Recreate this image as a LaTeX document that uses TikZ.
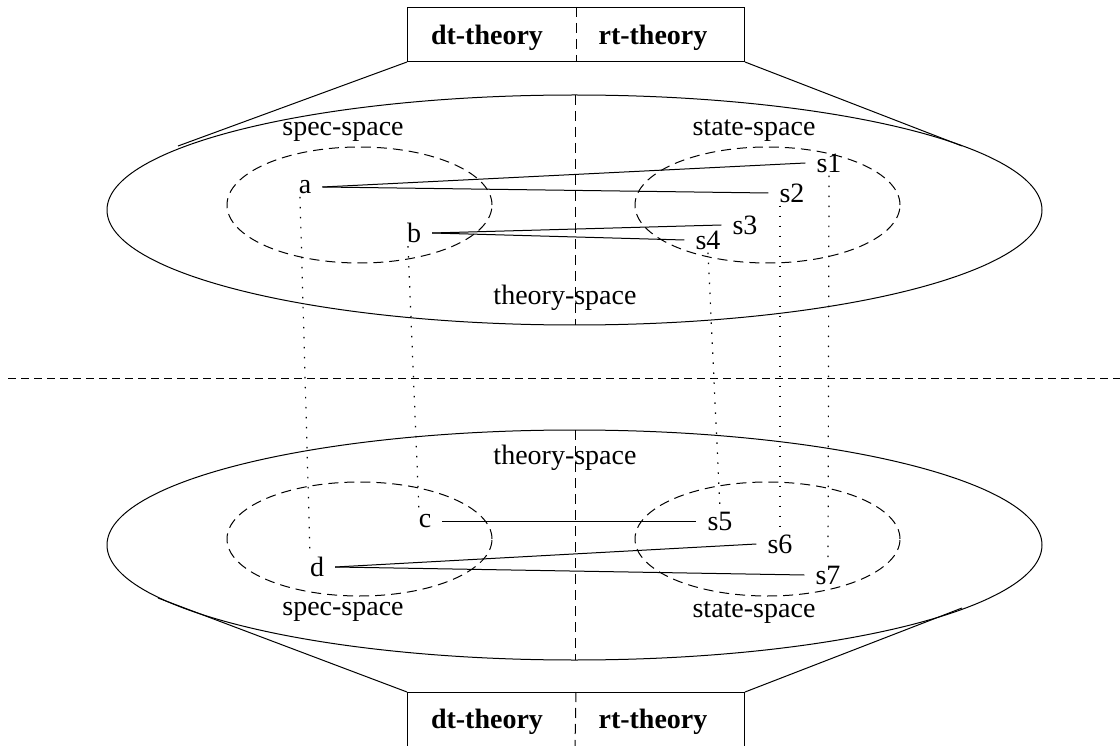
\documentclass[tikz,border=0pt]{standalone}
\usepackage{fontspec}
\setmainfont{Liberation Serif}
\begin{document}
\begin{tikzpicture}[x=1pt,y=-1pt,
  lbl/.style={font=\fontsize{28}{32}\selectfont, inner xsep=11pt, inner ysep=3pt},
  ttl/.style={font=\fontsize{28}{32}\selectfont\bfseries, inner sep=0pt},
  conn/.style={line width=1pt},
  divider/.style={line width=1pt, dash pattern=on 10pt off 6pt},
  region/.style={line width=1pt, dash pattern=on 10pt off 6pt},
  sepline/.style={line width=1pt, dash pattern=on 8pt off 5pt},
  mapping/.style={line width=1.2pt, dash pattern=on 1.5pt off 8.5pt},
  boxstyle/.style={draw, line width=1pt, minimum width=337pt, inner sep=0pt, anchor=north west}]
\useasboundingbox (0,0) rectangle (1120,746);
\clip (0,0) rectangle (1120,746);

% boxes
\node[boxstyle, minimum height=54pt] (topbox) at (407,7) {};
\node[boxstyle, minimum height=80pt] (botbox) at (407,692) {};
\node[ttl] (dt1) at (487,38) {dt-theory};
\node[ttl] (rt1) at (653,38) {rt-theory};
\node[ttl] (dt2) at (487,722) {dt-theory};
\node[ttl] (rt2) at (653,722) {rt-theory};

% big ellipses
\draw[conn] (574.5,210) ellipse [x radius=467.5pt, y radius=115pt];
\draw[conn] (574.5,545) ellipse [x radius=467.5pt, y radius=115pt];
\coordinate (E1l) at (178,146);
\coordinate (E1r) at (962,146);
\coordinate (E2l) at (158,598);
\coordinate (E2r) at (962,608);
\draw[conn] (topbox.south west) -- (E1l);
\draw[conn] (topbox.south east) -- (E1r);
\draw[conn] (botbox.north west) -- (E2l);
\draw[conn] (botbox.north east) -- (E2r);

% dividers
\draw[divider] (topbox.north) -- (topbox.south);
\draw[divider] (575,95) -- (575,325);
\draw[divider] (575,430) -- (575,660);
\draw[divider] (botbox.north) -- (575,746);
\draw[sepline] (8,378) -- (1120,378);

% small ellipses
\draw[region] (359.5,205) ellipse [x radius=132.5pt, y radius=58pt];
\draw[region] (767.5,205) ellipse [x radius=132.5pt, y radius=58pt];
\draw[region] (359.5,539) ellipse [x radius=132.5pt, y radius=57pt];
\draw[region] (767.5,539) ellipse [x radius=132.5pt, y radius=57pt];

% area labels
\node[lbl] (sp1) at (343,132) {spec-space};
\node[lbl] (st1) at (754,131) {state-space};
\node[lbl] (th1) at (565,298) {theory-space};
\node[lbl] (th2) at (565,458) {theory-space};
\node[lbl] (sp2) at (343,612) {spec-space};
\node[lbl] (st2) at (754,613) {state-space};

% element nodes
\node[lbl] (a) at (305,187) {a};
\node[lbl] (b) at (414,233) {b};
\node[lbl] (s1) at (829,163) {s1};
\node[lbl] (s2) at (792,193) {s2};
\node[lbl] (s3) at (745,225) {s3};
\node[lbl] (s4) at (708,240) {s4};
\node[lbl] (c) at (425,521) {c};
\node[lbl] (d) at (317,567) {d};
\node[lbl] (s5) at (720,521) {s5};
\node[lbl] (s6) at (780,544) {s6};
\node[lbl] (s7) at (828,575) {s7};

% relations
\draw[conn] (a.east) -- (s1.west);
\draw[conn] (a.east) -- (s2.west);
\draw[conn] (b.east) -- (s3.west);
\draw[conn] (b.east) -- (s4.west);
\draw[conn] (c.east) -- (s5.west);
\draw[conn] (d.east) -- (s6.west);
\draw[conn] (d.east) -- (s7.west);

% mappings
\draw[mapping] ([xshift=-5pt]a.south) -- ([xshift=-7pt]d.north);
\draw[mapping] ([xshift=-6pt]b.south) -- ([xshift=-6pt]c.north);
\draw[mapping] (s4.south) -- (s5.north);
\draw[mapping] ([xshift=-12pt]s2.south) -- (s6.north);
\draw[mapping] (s1.south) -- (s7.north);
\end{tikzpicture}
\end{document}
